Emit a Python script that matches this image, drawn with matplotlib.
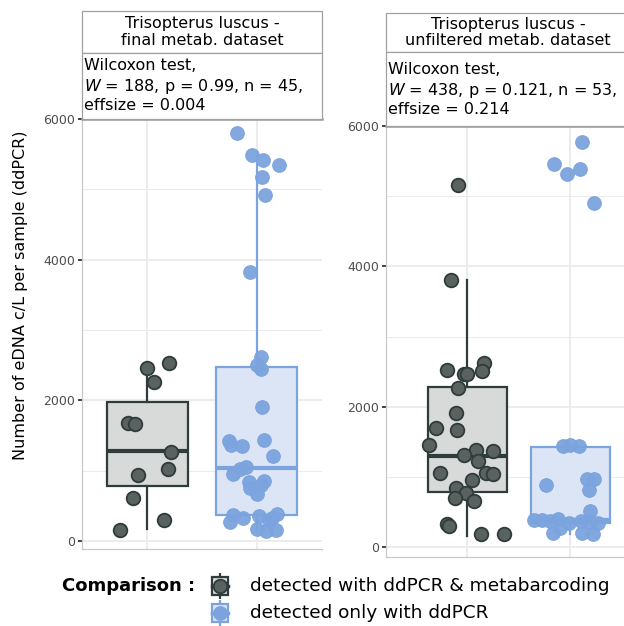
import numpy as np
import matplotlib
matplotlib.use("Agg")
from matplotlib import pyplot as plt
from matplotlib.patches import Rectangle

# ---- data ----
groups = ["detected with ddPCR & metabarcoding", "detected only with ddPCR"]

# final metab. dataset
final_both = [2455, 2527, 2265, 1682, 1659, 1270, 1024, 938, 616, 294, 156]
final_both_jit = [0.00, 0.20, 0.06, -0.18, -0.11, 0.22, 0.19, -0.09, -0.13, 0.15, -0.25]
final_only = [5805, 5488, 5417, 5346, 5180, 4920, 3820, 2621, 2502, 2446, 1901,
              1427, 1365, 1355, 1436, 1213, 1048, 1019, 953, 843, 853, 749, 796,
              668, 370, 275, 332, 355, 323, 380, 166, 147, 156, 300]
final_only_jit = [-0.18, -0.04, 0.06, 0.21, 0.05, 0.08, -0.06, 0.04, 0.00, 0.04, 0.05,
                  -0.25, -0.23, -0.13, 0.07, 0.15, -0.10, -0.15, -0.22, -0.07, 0.07, -0.06, 0.04,
                  0.00, -0.22, -0.24, -0.12, 0.02, 0.14, 0.19, 0.00, 0.09, 0.18, 0.11]

# unfiltered metab. dataset
unf_both = [5157, 3810, 2626, 2502, 2526, 2460, 2460, 2265, 1915, 1696, 1673, 1450,
            1389, 1370, 1308, 1227, 1062, 1057, 1034, 953, 843, 777, 701, 654,
            327, 303, 185, 185]
unf_both_jit = [-0.09, -0.16, 0.16, 0.14, -0.20, -0.03, 0.00, -0.09, -0.11, -0.30, -0.10, -0.37,
                0.08, 0.25, -0.03, 0.10, -0.27, 0.18, 0.25, 0.05, -0.11, -0.01, -0.12, 0.06,
                -0.20, -0.18, 0.13, 0.36]
unf_only = [5773, 5464, 5322, 5393, 4901, 1441, 1450, 1441, 891, 967, 967, 810, 516,
            384, 384, 370, 394, 337, 370, 360, 346, 195, 274, 195, 181]
unf_only_jit = [0.11, -0.16, -0.03, 0.09, 0.23, -0.07, 0.00, 0.08, -0.24, 0.16, 0.23, 0.18, 0.19,
                -0.35, -0.27, -0.20, -0.12, -0.01, 0.10, 0.19, 0.27, -0.17, -0.10, 0.11, 0.22]

# box stats (q1, median, q3, whisker low, whisker high)
final_boxes = [(782, 1280, 1977, 170, 2460), (370, 1040, 2480, 147, 5488)]
unf_boxes = [(787, 1303, 2280, 161, 3810), (340, 384, 1430, 181, 1450)]

titles = ["Trisopterus luscus -\nfinal metab. dataset",
          "Trisopterus luscus -\nunfiltered metab. dataset"]
stats_text = [["Wilcoxon test,", r"$\mathit{W}$ = 188, p = 0.99, n = 45,", "effsize = 0.004"],
              ["Wilcoxon test,", r"$\mathit{W}$ = 438, p = 0.121, n = 53,", "effsize = 0.214"]]

dark_fill, dark_edge, dark_box = "#59625F", "#2E3C3B", "#D8D9D9"
blue_fill, blue_edge, blue_box = "#7BA3DE", "#7BA3DE", "#DCE5F5"

W, H = 624, 626
plt.rcParams['font.family'] = ['DejaVu Sans']
fig = plt.figure(figsize=(W / 100, H / 100), dpi=100)


def fpos(x0, y0, x1, y1):
    # pixel box (top-left origin) -> figure fraction rect
    return [x0 / W, 1 - y1 / H, (x1 - x0) / W, (y1 - y0) / H]


def draw_panel(ax, both, both_jit, only, only_jit, boxes, xlim, ylim, width):
    ax.set_xlim(*xlim)
    ax.set_ylim(*ylim)
    ax.set_yticks([0, 2000, 4000, 6000])
    ax.set_yticks([1000, 3000, 5000], minor=True)
    ax.set_xticks([1, 2])
    ax.set_xticklabels([])
    ax.tick_params(axis='x', length=0)
    ax.tick_params(axis='y', which='major', length=3, width=1.3, color='#333333',
                   labelsize=9, labelcolor='#4D4D4D', pad=2)
    ax.tick_params(axis='y', which='minor', length=0)
    ax.grid(True, which='major', color='#EBEBEB', lw=1.3)
    ax.grid(True, which='minor', axis='y', color='#EBEBEB', lw=0.7)
    ax.set_axisbelow(True)
    for s in ['left', 'bottom']:
        ax.spines[s].set_color('#C8C8C8')
        ax.spines[s].set_linewidth(0.9)
    ax.spines['right'].set_visible(False)
    ax.spines['top'].set_color('#9A9A9A')
    ax.spines['top'].set_linewidth(1.8)

    cols = [(dark_edge, dark_box), (blue_edge, blue_box)]
    for i, (q1, med, q3, lo, hi) in enumerate(boxes):
        st = [dict(q1=q1, med=med, q3=q3, whislo=lo, whishi=hi, fliers=[])]
        ec, fc = cols[i]
        ax.bxp(st, positions=[i + 1], widths=width, patch_artist=True, showcaps=False,
               boxprops=dict(facecolor=fc, edgecolor=ec, lw=1.6),
               medianprops=dict(color=ec, lw=3.0),
               whiskerprops=dict(color=ec, lw=1.6), manage_ticks=False, zorder=2)

    ax.scatter(1 + np.array(both_jit), both, s=96, c=dark_fill, edgecolors=dark_edge,
               linewidths=1.3, zorder=3)
    ax.scatter(2 + np.array(only_jit), only, s=96, c=blue_fill, edgecolors=blue_edge,
               linewidths=0.8, alpha=0.95, zorder=3)


def draw_strip(x0, x1, top, mid, bottom, title, lines, line_y):
    fig.patches.append(Rectangle((x0 / W, 1 - mid / H), (x1 - x0) / W, (mid - top) / H,
                                 transform=fig.transFigure, fc='white', ec='#A0A0A0', lw=0.9))
    fig.patches.append(Rectangle((x0 / W, 1 - bottom / H), (x1 - x0) / W, (bottom - mid) / H,
                                 transform=fig.transFigure, fc='white', ec='#A0A0A0', lw=0.9))
    fig.text((x0 + x1) / 2 / W, 1 - (top + mid) / 2 / H, title, ha='center', va='center',
             fontsize=11.5, linespacing=1.1)
    for k, t in enumerate(lines):
        fig.text((x0 + 2) / W, 1 - line_y[k] / H, t, ha='left', va='center', fontsize=11.5)


ax1 = fig.add_axes(fpos(82, 119, 322, 549))
draw_panel(ax1, final_both, final_both_jit, final_only, final_only_jit, final_boxes,
           (0.4, 2.6), (-114, 6000), 0.75)
ax2 = fig.add_axes(fpos(386, 126, 630, 557))
draw_panel(ax2, unf_both, unf_both_jit, unf_only, unf_only_jit, unf_boxes,
           (0.21, 2.58), (-142, 6000), 0.77)

draw_strip(82, 322, 11, 53, 119, titles[0], stats_text[0], [66, 86, 106])
draw_strip(386, 630, 13, 52, 126, titles[1], stats_text[1], [70, 90, 110])

fig.text(21 / W, 1 - 295 / H, "Number of eDNA c/L per sample (ddPCR)", rotation=90,
         ha='center', va='center', fontsize=11.5)

# legend
fig.text(62 / W, 1 - 586 / H, "Comparison :", fontweight='bold', fontsize=13,
         ha='left', va='center')
key_rows = [(586, dark_edge, dark_box, dark_fill, 1.3), (613, blue_edge, blue_box, blue_fill, 0.8)]
for (yc, ec, fc, pc, plw), lab in zip(key_rows, groups):
    kax = fig.add_axes(fpos(209, yc - 13, 231, yc + 13))
    kax.set_xlim(0, 22)
    kax.set_ylim(0, 26)
    kax.axis('off')
    kax.plot([11, 11], [0, 26], color=ec, lw=1.6, zorder=1)
    kax.add_patch(Rectangle((3, 4), 16, 18, fc=fc, ec=ec, lw=1.6, zorder=2))
    kax.plot([3, 19], [13, 13], color=ec, lw=2.5, zorder=2)
    kax.scatter([11], [13], s=96, c=pc, edgecolors=ec, linewidths=plw, zorder=3)
    fig.text(250 / W, 1 - yc / H, lab, fontsize=13.3, ha='left', va='center')

fig.savefig("out.png", dpi=100)
